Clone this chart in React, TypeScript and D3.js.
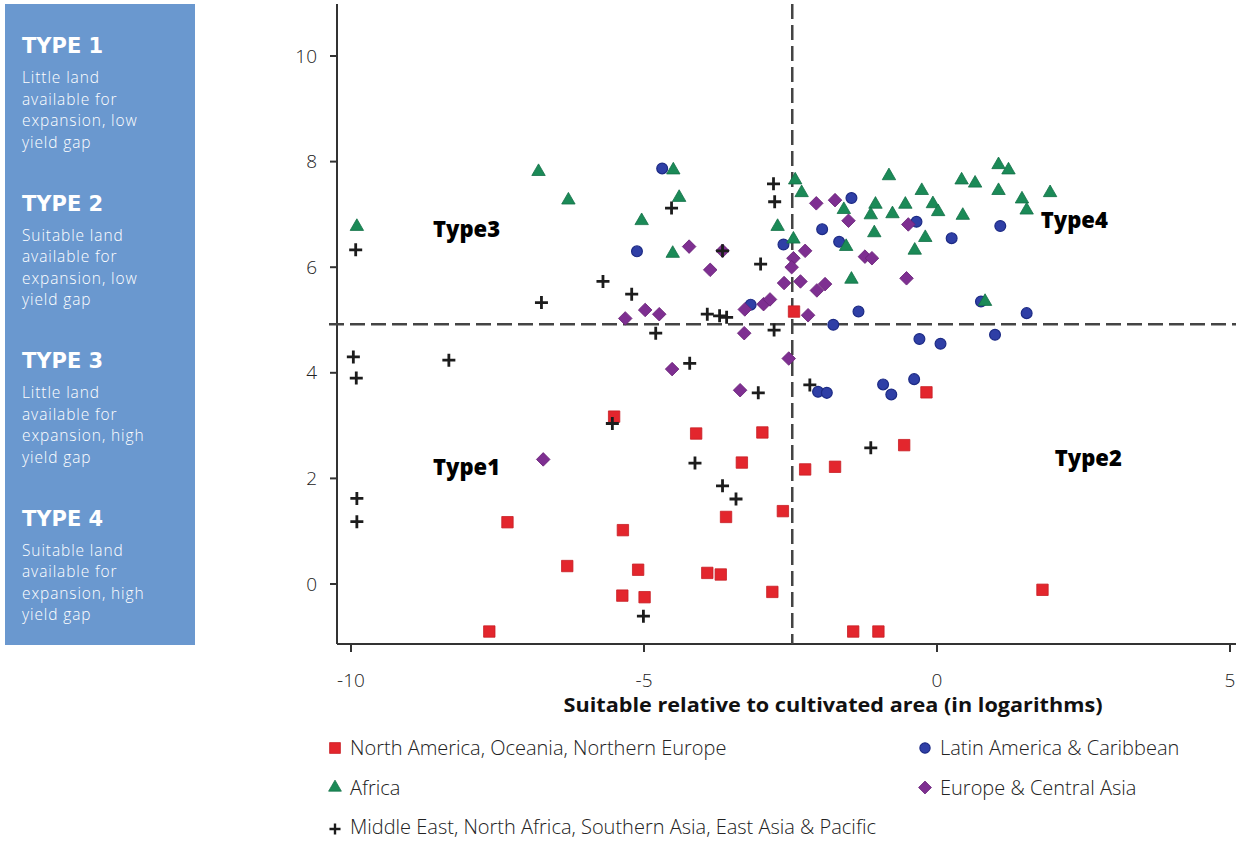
import React from 'react';
import * as d3 from 'd3';

// points: [x, y]
const northAmerica: [number, number][] = [
  [-7.33, 1.17], [-7.64, -0.9], [-6.31, 0.34], [-5.51, 3.17], [-5.36, 1.02], [-5.1, 0.27],
  [-5.37, -0.22], [-4.99, -0.25], [-4.11, 2.85], [-2.98, 2.87], [-3.33, 2.3], [-2.25, 2.17],
  [-1.74, 2.22], [-0.56, 2.63], [-0.18, 3.63], [-3.6, 1.27], [-2.63, 1.38], [-3.92, 0.21],
  [-3.69, 0.18], [-2.81, -0.15], [-1.43, -0.9], [-1.0, -0.9], [1.8, -0.11], [-2.44, 5.16],
];

const africa: [number, number][] = [
  [-9.9, 6.77], [-6.8, 7.81], [-6.29, 7.27], [-5.04, 6.88], [-4.5, 7.84], [-4.4, 7.32],
  [-4.51, 6.26], [-2.42, 7.65], [-2.31, 7.41], [-2.72, 6.77], [-2.45, 6.53], [-1.59, 7.09],
  [-1.55, 6.39], [-1.46, 5.77], [-0.82, 7.73], [-1.05, 7.19], [-1.13, 6.99], [-0.76, 7.01],
  [-0.54, 7.19], [-0.26, 7.45], [-0.07, 7.2], [0.02, 7.05], [-1.07, 6.65], [-0.2, 6.56],
  [-0.38, 6.32], [0.44, 6.98], [0.42, 7.65], [0.65, 7.59], [1.05, 7.94], [1.22, 7.84],
  [1.05, 7.45], [1.45, 7.29], [1.53, 7.08], [1.93, 7.41], [0.82, 5.35],
];

const latinAmerica: [number, number][] = [
  [-4.69, 7.87], [-5.12, 6.3], [-2.62, 6.43], [-3.18, 5.29], [-1.46, 7.31], [-1.96, 6.72],
  [-1.67, 6.48], [-0.35, 6.86], [0.25, 6.55], [1.08, 6.78], [0.75, 5.35], [1.53, 5.13],
  [0.99, 4.72], [-1.34, 5.16], [-1.77, 4.91], [-0.3, 4.64], [0.06, 4.55], [-2.03, 3.64],
  [-1.88, 3.62], [-0.92, 3.78], [-0.78, 3.59], [-0.39, 3.88],
];

const europeAsia: [number, number][] = [
  [-5.32, 5.03], [-4.98, 5.19], [-4.74, 5.11], [-4.23, 6.39], [-3.66, 6.31], [-3.87, 5.95],
  [-6.72, 2.36], [-4.52, 4.07], [-2.53, 4.27], [-3.36, 3.67], [-3.29, 4.75], [-3.28, 5.2],
  [-2.96, 5.3], [-2.85, 5.39], [-2.2, 5.09], [-2.61, 5.7], [-2.33, 5.73], [-2.05, 5.56],
  [-1.91, 5.68], [-2.45, 6.17], [-2.48, 6.0], [-2.25, 6.31], [-2.06, 7.21], [-1.74, 7.27],
  [-1.51, 6.88], [-1.23, 6.2], [-1.11, 6.17], [-0.52, 5.79], [-0.49, 6.81],
];

const middleEast: [number, number][] = [
  [-9.92, 6.33], [-5.7, 5.73], [-5.21, 5.49], [-6.75, 5.33], [-9.96, 4.3], [-8.33, 4.24],
  [-9.91, 3.9], [-5.54, 3.04], [-9.9, 1.62], [-9.9, 1.18], [-5.01, -0.61], [-4.22, 4.18],
  [-3.05, 3.62], [-2.17, 3.77], [-4.13, 2.29], [-1.13, 2.58], [-3.66, 1.86], [-3.43, 1.61],
  [-4.53, 7.12], [-3.66, 6.31], [-3.01, 6.06], [-2.79, 7.58], [-2.77, 7.24], [-3.92, 5.11],
  [-3.71, 5.08], [-3.59, 5.05], [-4.8, 4.75], [-2.78, 4.81],
];

const xTicks = [-10, -5, 0, 5];
const yTicks = [0, 2, 4, 6, 8, 10];
const splitX = -2.47;
const splitY = 4.92;

const quadrantNames = ['Type3', 'Type4', 'Type1', 'Type2'];
const quadrantAt: [number, number][] = [[-8.6, 6.57], [1.77, 6.74], [-8.6, 2.06], [2.01, 2.23]];

const typeTitles = ['TYPE 1', 'TYPE 2', 'TYPE 3', 'TYPE 4'];
const typeText = [
  ['Little land', 'available for', 'expansion, low', 'yield gap'],
  ['Suitable land', 'available for', 'expansion, low', 'yield gap'],
  ['Little land', 'available for', 'expansion, high', 'yield gap'],
  ['Suitable land', 'available for', 'expansion, high', 'yield gap'],
];

const xTitle = 'Suitable relative to cultivated area (in logarithms)';

const FONT = "'Open Sans', 'DejaVu Sans', sans-serif";

const sym = {
  square: d3.symbol(d3.symbolSquare, 130)()!,
  triangle: d3.symbol(d3.symbolTriangle, 78)()!,
  circle: d3.symbol(d3.symbolCircle, 92)()!,
  diamond: d3.symbol(d3.symbolSquare, 92)()!,
  plus: 'M-6.5,0H6.5M0,-6.5V6.5',
};

const styles: Record<string, any> = {
  northAmerica: { d: sym.square, fill: '#e3262d', stroke: '#c81e25', sw: 0.8 },
  latinAmerica: { d: sym.circle, fill: '#2f3fa6', stroke: '#1d2b85', sw: 1.2 },
  europeAsia: { d: sym.diamond, fill: '#7e2f91', stroke: '#6a2479', sw: 0.8, rot: 45 },
  africa: { d: sym.triangle, fill: '#1b8a57', stroke: '#137047', sw: 0.8 },
  middleEast: { d: sym.plus, fill: 'none', stroke: '#1c1c1c', sw: 2.8 },
};

const legend = [
  { key: 'northAmerica', label: 'North America, Oceania, Northern Europe', col: 0, row: 0 },
  { key: 'latinAmerica', label: 'Latin America & Caribbean', col: 1, row: 0 },
  { key: 'africa', label: 'Africa', col: 0, row: 1 },
  { key: 'europeAsia', label: 'Europe & Central Asia', col: 1, row: 1 },
  { key: 'middleEast', label: 'Middle East, North Africa, Southern Asia, East Asia & Pacific', col: 0, row: 2 },
];

function Mark({ k, cx, cy, scale = 1 }: { k: string; cx: number; cy: number; scale?: number }) {
  const s = styles[k];
  const t = `translate(${cx},${cy})${s.rot ? ` rotate(${s.rot})` : ''}${scale !== 1 ? ` scale(${scale})` : ''}`;
  return <path d={s.d} transform={t} fill={s.fill} stroke={s.stroke} strokeWidth={s.sw} />;
}

export default function App() {
  const left = 337, right = 1236, top = 4, bottom = 644;
  const x = d3.scaleLinear().domain([-10, 5]).range([351, 1230]);
  const y = d3.scaleLinear().domain([0, 10]).range([584, 56]);

  const layers: [string, [number, number][]][] = [
    ['latinAmerica', latinAmerica],
    ['europeAsia', europeAsia],
    ['northAmerica', northAmerica],
    ['africa', africa],
    ['middleEast', middleEast],
  ];

  return (
    <div style={{ position: 'absolute', left: 0, top: 0 }}>
      <svg width={1236} height={843} style={{ display: 'block', background: '#fff' }}>
        {/* side panel */}
        <rect x={5} y={4} width={190} height={641} fill="#6a98cf" />
        {typeTitles.map((t, i) => (
          <g key={t} transform={`translate(22,${53 + i * 157.5})`} fill="#fff">
            <text fontFamily="'DejaVu Sans', sans-serif" fontWeight={700} fontSize={21}>{t}</text>
            {typeText[i].map((line, j) => (
              <text key={j} y={30 + j * 21.5} fontFamily={FONT} fontWeight={300} fontSize={15.5} letterSpacing={0.9}>{line}</text>
            ))}
          </g>
        ))}

        {/* axes */}
        <line x1={left} x2={left} y1={top} y2={bottom} stroke="#333" strokeWidth={2} />
        <line x1={left} x2={right} y1={bottom} y2={bottom} stroke="#333" strokeWidth={2} />
        {yTicks.map((v) => (
          <g key={v}>
            <line x1={left - 7} x2={left} y1={y(v)} y2={y(v)} stroke="#333" strokeWidth={2} />
            <text x={317} y={y(v)} dy="0.35em" textAnchor="end" fontFamily={FONT} fontWeight={300} fontSize={19} fill="#222">{v}</text>
          </g>
        ))}
        {xTicks.map((v) => (
          <g key={v}>
            <line x1={x(v)} x2={x(v)} y1={bottom} y2={bottom + 8} stroke="#333" strokeWidth={2} />
            <text x={x(v)} y={687} textAnchor="middle" fontFamily={FONT} fontWeight={300} fontSize={19} fill="#222">{v}</text>
          </g>
        ))}
        <text x={833} y={712} textAnchor="middle" fontFamily={FONT} fontWeight={700} fontSize={19}
          textLength={539} lengthAdjust="spacingAndGlyphs" fill="#111">{xTitle}</text>

        {/* split lines */}
        <line x1={x(splitX)} x2={x(splitX)} y1={top} y2={bottom} stroke="#444" strokeWidth={2.5} strokeDasharray="15 6" />
        <line x1={left - 8} x2={right} y1={y(splitY)} y2={y(splitY)} stroke="#444" strokeWidth={2.5} strokeDasharray="15 6" />

        {/* quadrant names */}
        {quadrantNames.map((n, i) => (
          <text key={n} x={x(quadrantAt[i][0])} y={y(quadrantAt[i][1])} fontFamily={FONT} fontWeight={800} fontSize={22} fill="#000">{n}</text>
        ))}

        {/* points */}
        {layers.map(([k, pts]) => (
          <g key={k}>
            {pts.map((p, i) => <Mark key={i} k={k} cx={x(p[0])} cy={y(p[1])} />)}
          </g>
        ))}

        {/* legend */}
        {legend.map((l) => {
          const lx = l.col === 0 ? 335 : 925;
          const ly = 748 + l.row * 39.5;
          return (
            <g key={l.key}>
              <Mark k={l.key} cx={lx} cy={ly + (l.key === 'middleEast' ? 2 : 0)} scale={l.key === 'middleEast' ? 0.85 : 0.95} />
              <text x={lx + 15} y={ly} dy="0.36em" fontFamily={FONT} fontWeight={300} fontSize={20} fill="#222">{l.label}</text>
            </g>
          );
        })}
      </svg>
    </div>
  );
}
